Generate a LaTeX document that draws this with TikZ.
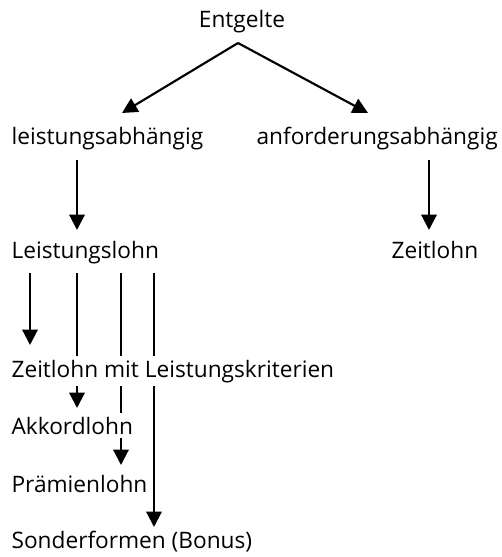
\documentclass[tikz,border=0pt]{standalone}
\usepackage{fontspec}
\setmainfont{Open Sans}
\usetikzlibrary{arrows.meta,backgrounds}
\begin{document}
\begin{tikzpicture}[x=0.75pt,y=-0.75pt,
  lbl/.style={font=\fontsize{17pt}{20pt}\selectfont, inner xsep=1pt, inner ysep=3pt, fill=white},
  arr/.style={line width=1.6pt, -{Triangle[width=11.5pt,length=11.5pt]}}]
\useasboundingbox (0,0) rectangle (502,557);
% texts
\node[lbl,anchor=base] (ent) at (242,27) {Entgelte};
\node[lbl,anchor=base west] (la) at (10,144) {leistungsabhängig};
\node[lbl,anchor=base west] (aa) at (255,144) {anforderungsabhängig};
\node[lbl,anchor=base west] (ll) at (10,258) {Leistungslohn};
\node[lbl,anchor=base west] (zl) at (390,258) {Zeitlohn};
\node[lbl,anchor=base west] (zlm) at (10,377) {Zeitlohn mit Leistungskriterien};
\node[lbl,anchor=base west] (akk) at (10,434) {Akkordlohn};
\node[lbl,anchor=base west] (pra) at (10,492) {Prämienlohn};
\node[lbl,anchor=base west] (son) at (10,548) {Sonderformen (Bonus)};
% connector end points
\coordinate (apex) at (238,43);
\coordinate (tla) at (122,113);
\coordinate (taa) at (368,113);
\coordinate (sla) at (77,160);
\coordinate (tll) at (77,230);
\coordinate (saa) at (429,160);
\coordinate (tzl) at (429,230);
\coordinate (s1) at (30,273);
\coordinate (s2) at (77,273);
\coordinate (s3) at (121,273);
\coordinate (s4) at (154,273);
\coordinate (t1) at (30,345);
\coordinate (t2) at (77,408);
\coordinate (t3) at (121,465);
\coordinate (t4) at (154,527);
\begin{pgfonlayer}{background}
\draw[arr] (apex) -- (tla);
\draw[arr] (apex) -- (taa);
\draw[arr] (sla) -- (tll);
\draw[arr] (saa) -- (tzl);
\draw[arr] (s1) -- (t1);
\draw[arr] (s2) -- (t2);
\draw[arr] (s3) -- (t3);
\draw[arr] (s4) -- (t4);
\end{pgfonlayer}
\end{tikzpicture}
\end{document}
